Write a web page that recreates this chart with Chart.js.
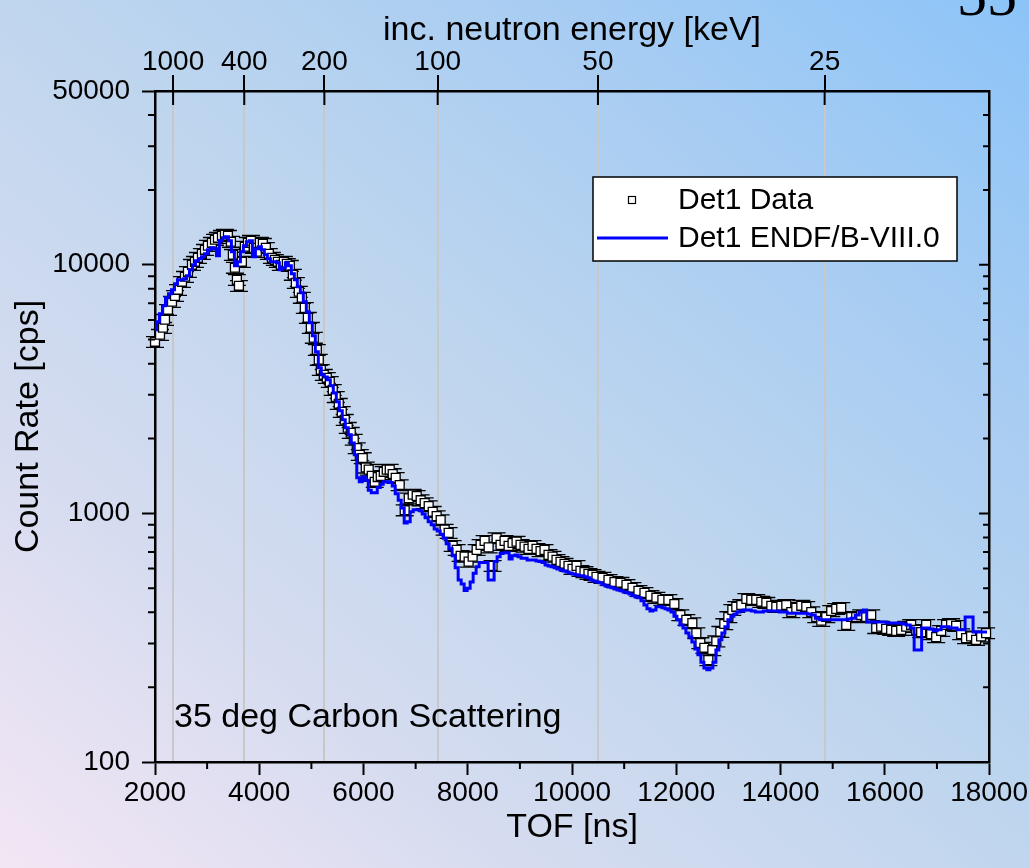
<!DOCTYPE html>
<html>
<head>
<meta charset="utf-8">
<title>TOF spectrum</title>
<script src="https://cdn.jsdelivr.net/npm/chart.js@4.4.1/dist/chart.umd.min.js"></script>
<style>
  html, body { margin: 0; padding: 0; }
  body {
    width: 1029px; height: 868px; overflow: hidden;
    background: linear-gradient(to bottom left, #8cc4f8 0%, #a9cdf2 25%, #c0d6ee 50%, #d6dcf0 75%, #f3e6f4 100%);
  }
  canvas { display: block; }
</style>
</head>
<body>
<canvas id="tof" width="1029" height="868"></canvas>
<script>
// measured count rate, detector 1
const tofData = [2000,2096,2153,2192,2249,2326,2383,2441,2517,2575,
  2632,2709,2766,2824,2900,2958,3015,3092,3150,3207,
  3284,3341,3399,3456,3494,3533,3571,3610,3667,3724,
  3782,3840,3897,3954,4012,4069,4127,4184,4242,4299,
  4357,4414,4472,4529,4587,4644,4702,4759,4817,4874,
  4932,4989,5047,5104,5142,5181,5238,5296,5353,5410,
  5468,5525,5583,5640,5698,5755,5813,5870,5928,5985,
  6043,6100,6158,6215,6273,6330,6388,6445,6503,6560,
  6617,6694,6790,6867,6943,7020,7096,7173,7250,7327,
  7403,7480,7556,7633,7710,7786,7863,7940,8016,8093,
  8170,8246,8323,8400,8476,8553,8629,8706,8783,8859,
  8936,9012,9089,9166,9242,9319,9396,9472,9549,9626,
  9702,9779,9856,9932,10009,10086,10162,10239,10315,10392,
  10469,10584,10699,10814,10929,11044,11159,11274,11389,11504,
  11618,11733,11848,11963,12078,12193,12308,12385,12461,12538,
  12615,12691,12768,12845,12921,12998,13075,13151,13247,13344,
  13438,13534,13631,13727,13823,13918,14014,14110,14206,14302,
  14398,14493,14589,14685,14781,14877,14972,15068,15164,15260,
  15356,15451,15547,15643,15739,15835,15930,16026,16122,16218,
  16314,16410,16505,16601,16697,16793,16889,16985,17081,17176,
  17272,17368,17464,17559,17655,17751,17847,17943];
const rateData = [4900,5230,5580,6010,6590,7100,7500,7930,8540,8950,
  9370,10000,10280,10670,11070,11490,11930,12260,12610,12840,
  13080,13210,13080,12380,10970,9730,8700,8230,10280,11820,
  12260,12490,11700,11280,12260,12150,11700,11070,10670,10470,
  10280,10000,10280,10090,9910,9120,8460,7790,7370,6710,
  6120,5580,5090,4550,4150,3780,3610,3510,3380,3140,
  2940,2760,2560,2380,2210,2110,1980,1830,1720,1670,
  1530,1500,1415,1340,1400,1415,1470,1500,1500,1440,
  1390,1300,1030,1150,1190,1175,1130,1100,1070,1015,
  975,940,860,835,740,713,675,670,640,670,
  713,747,775,730,615,795,747,775,740,760,
  770,747,735,720,740,720,705,713,681,670,
  650,638,627,615,598,615,587,581,571,566,
  556,551,540,530,526,516,502,488,479,466,
  458,449,449,432,390,373,362,330,301,288,
  257,282,306,334,359,383,409,421,428,453,
  449,449,441,437,425,421,425,428,401,417,
  425,421,401,383,370,383,405,413,417,356,
  383,383,390,383,390,346,350,343,340,337,
  340,350,356,340,333,356,327,318,337,356,
  359,353,327,315,320,310,320,330];
const relErr = 0.05;

// ENDF/B-VIII.0 simulation, histogram
const tofModel = [2000,2057,2115,2172,2230,2287,2345,2402,2460,2517,
  2575,2632,2690,2747,2805,2862,2920,2977,3035,3092,
  3150,3207,3265,3322,3380,3437,3494,3552,3610,3667,
  3724,3782,3840,3897,3954,4012,4069,4127,4184,4242,
  4299,4357,4414,4472,4529,4587,4644,4702,4759,4817,
  4874,4932,4989,5047,5104,5161,5219,5277,5334,5392,
  5449,5507,5564,5621,5679,5736,5794,5851,5890,5947,
  6005,6062,6120,6177,6235,6292,6350,6407,6465,6522,
  6580,6637,6694,6752,6809,6867,6924,6982,7039,7097,
  7154,7212,7269,7327,7384,7442,7499,7557,7614,7672,
  7729,7787,7844,7902,7959,8017,8074,8132,8189,8247,
  8304,8362,8419,8477,8534,8592,8649,8707,8764,8822,
  8879,8937,8994,9052,9109,9167,9224,9282,9339,9397,
  9454,9512,9569,9627,9684,9742,9799,9857,9914,9972,
  10029,10087,10144,10202,10259,10316,10374,10431,10489,10546,
  10604,10661,10719,10776,10834,10891,10949,11006,11064,11121,
  11179,11236,11294,11351,11409,11466,11524,11581,11639,11696,
  11754,11811,11869,11926,11984,12041,12099,12156,12213,12271,
  12328,12386,12443,12501,12558,12616,12673,12731,12788,12846,
  12903,12961,13018,13076,13133,13191,13248,13325,13401,13478,
  13555,13631,13708,13785,13861,13938,14015,14091,14168,14245,
  14321,14398,14475,14551,14628,14704,14781,14858,14934,15011,
  15088,15164,15241,15318,15394,15471,15548,15624,15682,15758,
  15835,15912,15988,16065,16142,16218,16295,16371,16448,16525,
  16601,16678,16735,16812,16889,16965,17042,17119,17195,17272,
  17348,17425,17502,17578,17655,17731,17808,17885,17961];
const rateModel = [5480,5900,6350,6840,7370,7640,7930,8380,8700,8700,
  8780,9030,9550,10000,10380,10570,10770,11070,11490,11700,
  11600,10870,12490,12840,12960,12490,11280,9910,10280,11280,
  11930,12380,12490,10770,11600,11820,11490,10970,10570,10280,
  10280,10190,9550,9730,10190,9910,9200,8700,8150,7710,
  7100,6470,5840,5180,4470,3850,3610,3540,3445,3260,
  3050,2810,2585,2380,2210,2070,1920,1720,1390,1340,
  1400,1360,1240,1210,1210,1270,1310,1340,1340,1330,
  1290,1200,1130,1050,915,925,1015,1035,1035,1025,
  995,960,925,900,865,850,825,795,755,720,
  675,605,540,520,490,500,530,575,610,635,
  635,635,540,540,640,670,690,695,695,655,
  675,680,670,660,660,650,650,650,644,640,
  635,620,615,610,605,598,592,587,581,576,
  571,566,561,561,556,551,540,535,530,526,
  516,511,506,502,497,492,488,483,479,474,
  466,461,458,445,428,413,405,409,421,421,
  417,413,409,401,386,373,356,346,330,318,
  304,285,270,252,239,235,239,252,282,310,
  330,350,373,386,394,401,405,409,409,405,
  401,401,405,405,405,405,401,401,397,397,
  397,397,397,394,390,379,373,373,373,373,
  373,373,373,376,379,390,401,409,366,366,
  366,366,366,362,362,362,362,359,356,346,
  282,282,346,346,343,337,340,350,350,346,
  346,340,340,383,383,333,333,333,333];

// axes
const xMajor = [2000,4000,6000,8000,10000,12000,14000,16000,18000];
const xMinor = [3000,5000,7000,9000,11000,13000,15000,17000];
const yMajor = [100,1000,10000,50000];
const yMinor = [200,300,400,500,600,700,800,900,2000,3000,4000,5000,6000,7000,8000,9000,20000,30000,40000];
// incident neutron energy (keV) and the matching flight time (ns)
const energyKeV = [1000,400,200,100,50,25];
const energyTof = [2347,3712,5249,7423,10497,14846];

const FONT = '"Liberation Sans", Arial, sans-serif';
Chart.defaults.font.family = FONT;
Chart.defaults.color = '#000';

// vertical error bars with wide caps, under the markers
const errorBars = {
  id: 'errorBars',
  beforeDatasetsDraw(chart) {
    const {ctx, scales: {x, y}} = chart;
    ctx.save();
    ctx.strokeStyle = '#000';
    ctx.lineWidth = 1.3;
    ctx.beginPath();
    tofData.forEach((t, i) => {
      const px = x.getPixelForValue(t);
      const lo = y.getPixelForValue(rateData[i] * (1 - relErr));
      const hi = y.getPixelForValue(rateData[i] * (1 + relErr));
      ctx.moveTo(px, lo); ctx.lineTo(px, hi);
      ctx.moveTo(px - 9, lo); ctx.lineTo(px + 9, lo);
      ctx.moveTo(px - 9, hi); ctx.lineTo(px + 9, hi);
    });
    ctx.stroke();
    ctx.restore();
  }
};

// minor ticks, right-axis ticks, energy ticks below the top axis, legend and label
const decorations = {
  id: 'decorations',
  afterDraw(chart) {
    const {ctx, chartArea: a, scales: {x, y}} = chart;
    ctx.save();
    ctx.strokeStyle = '#000';
    ctx.lineWidth = 2;
    ctx.beginPath();
    xMinor.forEach(v => {
      const px = x.getPixelForValue(v);
      ctx.moveTo(px, a.bottom); ctx.lineTo(px, a.bottom + 7);
    });
    yMinor.forEach(v => {
      const py = y.getPixelForValue(v);
      ctx.moveTo(a.left - 7, py); ctx.lineTo(a.left, py);
      ctx.moveTo(a.right - 6, py); ctx.lineTo(a.right, py);
    });
    yMajor.forEach(v => {
      const py = y.getPixelForValue(v);
      ctx.moveTo(a.right - 10, py); ctx.lineTo(a.right, py);
    });
    energyTof.forEach(v => {
      const px = x.getPixelForValue(v);
      ctx.moveTo(px, a.top); ctx.lineTo(px, a.top + 14);
    });
    ctx.stroke();

    // legend box
    const lx = a.left + 438, ly = a.top + 86, lw = 364, lh = 84;
    ctx.fillStyle = '#fff';
    ctx.fillRect(lx, ly, lw, lh);
    ctx.lineWidth = 1.5;
    ctx.strokeRect(lx, ly, lw, lh);
    ctx.lineWidth = 1.2;
    ctx.strokeRect(lx + 35.5, ly + 19.5, 7, 7);
    ctx.strokeStyle = '#0000ff';
    ctx.lineWidth = 3;
    ctx.beginPath();
    ctx.moveTo(lx + 4, ly + 61); ctx.lineTo(lx + 75, ly + 61);
    ctx.stroke();
    ctx.fillStyle = '#000';
    ctx.font = '30px ' + FONT;
    ctx.textBaseline = 'middle';
    ctx.textAlign = 'left';
    chart.data.datasets.forEach((ds, i) => ctx.fillText(ds.label, lx + 85, ly + 24 + i * 38));

    ctx.font = '34px ' + FONT;
    ctx.textBaseline = 'alphabetic';
    ctx.fillText('35 deg Carbon Scattering', a.left + 19, a.bottom - 35);

    // page number in the corner
    ctx.font = '60px "Liberation Serif", "Times New Roman", serif';
    ctx.fillText('55', 957, 15);
    ctx.restore();
  }
};

const tickFont = {size: 28};
const titleFont = {size: 34};

new Chart(document.getElementById('tof'), {
  type: 'scatter',
  data: {
    datasets: [
      {
        label: 'Det1 Data',
        data: tofData.map((t, i) => ({x: t, y: rateData[i]})),
        pointStyle: 'rect',
        pointRadius: 6.3,
        backgroundColor: '#ffffff',
        borderColor: '#000000',
        borderWidth: 1.3,
        clip: false,
        order: 2
      },
      {
        label: 'Det1 ENDF/B-VIII.0',
        data: tofModel.map((t, i) => ({x: t, y: rateModel[i]})),
        showLine: true,
        stepped: 'middle',
        borderColor: '#0000ff',
        borderWidth: 3,
        pointRadius: 0,
        order: 1
      }
    ]
  },
  options: {
    responsive: false,
    animation: false,
    events: [],
    layout: {padding: 0},
    plugins: {
      legend: {display: false},
      tooltip: {enabled: false}
    },
    scales: {
      x: {
        type: 'linear', position: 'bottom', min: 2000, max: 18000,
        afterFit: s => { s.height = 106; },
        afterBuildTicks: s => { s.ticks = xMajor.map(v => ({value: v})); },
        ticks: {font: tickFont, color: '#000', padding: 1, maxRotation: 0, autoSkip: false, callback: v => String(v)},
        grid: {drawOnChartArea: false, tickLength: 13, tickColor: '#000', tickWidth: 2},
        border: {color: '#000', width: 2.5},
        title: {display: true, text: 'TOF [ns]', font: titleFont, color: '#000', padding: {top: 0, bottom: 20}}
      },
      xTop: {
        type: 'linear', position: 'top', min: 2000, max: 18000,
        afterFit: s => { s.height = 91; },
        afterBuildTicks: s => { s.ticks = energyTof.map(v => ({value: v})); },
        ticks: {font: tickFont, color: '#000', padding: -4, maxRotation: 0, autoSkip: false,
          callback: (v, i) => String(energyKeV[i])},
        grid: {drawOnChartArea: true, color: '#c8c8c8', lineWidth: 2, tickLength: 16, tickColor: '#000', tickWidth: 2},
        border: {color: '#000', width: 2.5},
        title: {display: true, text: 'inc. neutron energy [keV]', font: titleFont, color: '#000', padding: {top: 10, bottom: 0}}
      },
      y: {
        type: 'logarithmic', position: 'left', min: 100, max: 50000,
        afterFit: s => { s.width = 155; },
        afterBuildTicks: s => { s.ticks = yMajor.map(v => ({value: v})); },
        ticks: {font: tickFont, color: '#000', padding: 12, autoSkip: false, callback: v => String(v)},
        grid: {drawOnChartArea: false, tickLength: 13, tickColor: '#000', tickWidth: 2},
        border: {color: '#000', width: 2.5},
        title: {display: true, text: 'Count Rate [cps]', font: titleFont, color: '#000', padding: {top: 8, bottom: 0}}
      },
      yRight: {
        type: 'logarithmic', position: 'right', min: 100, max: 50000, display: true,
        afterFit: s => { s.width = 39; },
        ticks: {display: false},
        grid: {drawOnChartArea: false, drawTicks: false},
        border: {color: '#000', width: 2.5}
      }
    }
  },
  plugins: [errorBars, decorations]
});
</script>
</body>
</html>
